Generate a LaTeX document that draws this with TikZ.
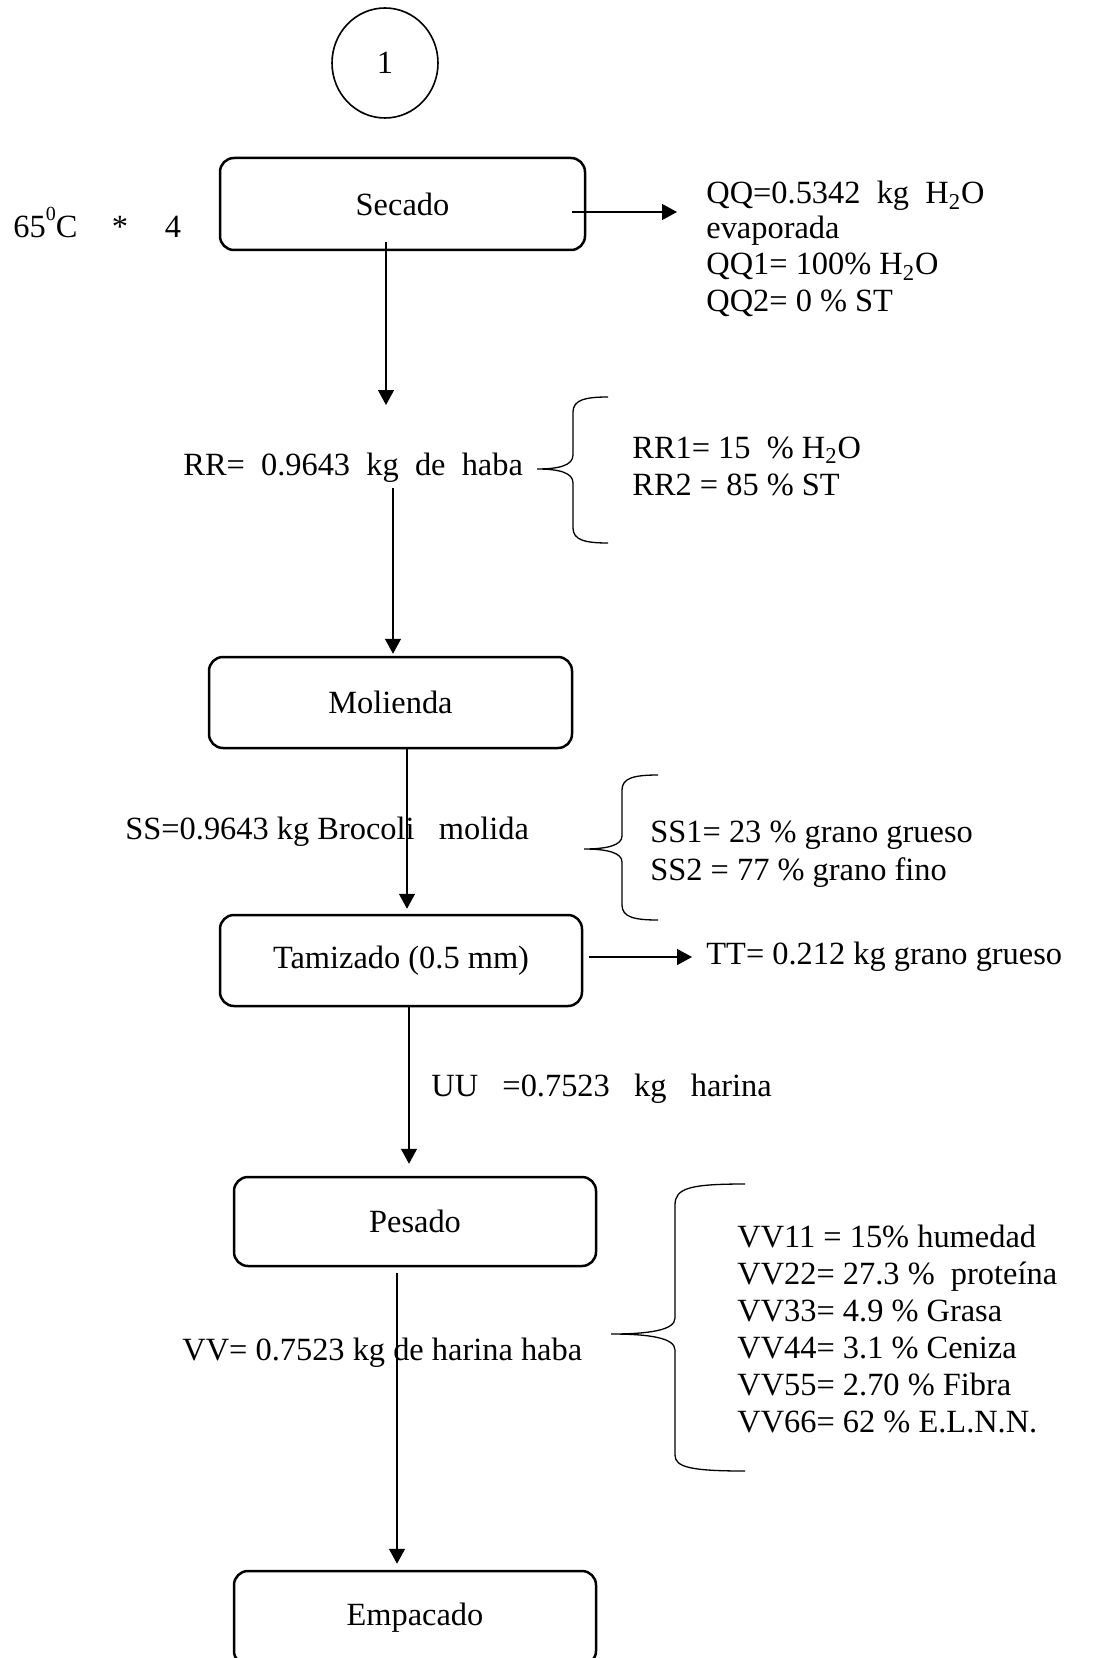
\documentclass[tikz,border=0pt]{standalone}
\usepackage{fontspec}
\setmainfont{Liberation Serif}
\usetikzlibrary{shapes.geometric,arrows.meta}
\begin{document}
\begin{tikzpicture}[x=0.5pt,y=-0.5pt,
  txt/.style={font=\fontsize{16.2}{18.5}\selectfont, inner sep=0pt, anchor=base west},
  box/.style={draw, line width=1.25pt, rounded corners=7pt, inner sep=0pt,
              font=\fontsize{16.2}{18.5}\selectfont},
  arr/.style={line width=0.65pt, -{Triangle[length=7.5pt,width=8pt]}},
  brc/.style={line width=0.65pt}]
\useasboundingbox (0,0) rectangle (1092,1658);

% start circle
\node[ellipse, draw, line width=0.8pt, minimum width=53pt, minimum height=55pt,
      font=\fontsize{16.2}{18.5}\selectfont] (c1) at (385,63) {1};

% process boxes
\node[box, minimum width=182.5pt, minimum height=46pt] (secado) at (402.5,204) {Secado};
\node[box, minimum width=181.5pt, minimum height=45.5pt] (molienda) at (390.5,702.5) {Molienda};
\node[box, minimum width=181pt, minimum height=45.5pt] (tamizado) at (401,960.5) {Tamizado (0.5 mm)};
\node[box, minimum width=181pt, minimum height=44.5pt] (pesado) at (415,1221.5) {Pesado};
\node[box, minimum width=181pt, minimum height=47pt] (empacado) at (415,1618) {Empacado};

% side texts
\node[txt] (temp) at (13,238) {65\raisebox{0.55em}{\fontsize{10}{10}\selectfont 0}C};
\node[txt, anchor=base] (star) at (120,238) {*};
\node[txt, anchor=base] (four) at (173,238) {4};

\node[txt] (qq)  at (706,204) {QQ=0.5342~~kg~~H\textsubscript{2}O};
\node[txt] (qqe) at (706,239) {evaporada};
\node[txt] (qq1) at (706,275) {QQ1= 100\% H\textsubscript{2}O};
\node[txt] (qq2) at (706,312) {QQ2= 0 \% ST};

\node[txt] (rr)  at (183,475) {RR=~~0.9643~~kg~~de~~haba};
\node[txt] (rr1) at (632,458) {RR1= 15~~\% H\textsubscript{2}O};
\node[txt] (rr2) at (632,495) {RR2 = 85 \% ST};

\node[txt] (ss)  at (125,839) {SS=0.9643 kg Brocoli~~~molida};
\node[txt] (ss1) at (650,842) {SS1= 23 \% grano grueso};
\node[txt] (ss2) at (650,880) {SS2 = 77 \% grano fino};

\node[txt] (tt)  at (706,964) {TT= 0.212 kg grano grueso};
\node[txt] (uu)  at (431,1096) {UU~~~=0.7523~~~kg~~~harina};

\node[txt] (vv)  at (182,1360) {VV= 0.7523 kg de harina haba};
\node[txt] (vv1) at (737,1247) {VV11 = 15\% humedad};
\node[txt] (vv2) at (737,1284) {VV22= 27.3 \%~~proteína};
\node[txt] (vv3) at (737,1321) {VV33= 4.9 \% Grasa};
\node[txt] (vv4) at (737,1358) {VV44= 3.1 \% Ceniza};
\node[txt] (vv5) at (737,1395) {VV55= 2.70 \% Fibra};
\node[txt] (vv6) at (737,1432) {VV66= 62 \% E.L.N.N.};

% connectors
\coordinate (a1s) at (386,242);
\coordinate (a1e) at (386,405);
\draw[arr] (a1s) -- (a1e);

\coordinate (a2s) at (393,488);
\draw[arr, shorten >=1pt] (a2s) -- (a2s |- molienda.north);

\draw[arr, shorten >=2.5pt] (molienda.south -| 407,0) -- (tamizado.north -| 407,0);
\draw[arr, shorten >=6pt] (tamizado.south -| 409,0) -- (pesado.north -| 409,0);
\draw[arr, shorten <=3pt, shorten >=3pt] (pesado.south -| 397,0) -- (empacado.north -| 397,0);

\coordinate (q0) at (572,212);
\coordinate (q1) at (677,212);
\draw[arr] (q0) -- (q1);

\coordinate (t0) at (589,957);
\coordinate (t1) at (692,957);
\draw[arr] (t0) -- (t1);

% braces
\draw[brc] (608,397) .. controls (585,397) and (573,400) .. (573,412) -- (573,455)
  .. controls (573,465) and (560,469) .. (537,469)
  .. controls (560,469) and (573,473) .. (573,483) -- (573,528)
  .. controls (573,540) and (585,543) .. (608,543);

\draw[brc] (658,775) .. controls (634,775) and (622,778) .. (622,790) -- (622,836)
  .. controls (622,845) and (608,849) .. (584,849)
  .. controls (608,849) and (622,853) .. (622,862) -- (622,905)
  .. controls (622,917) and (634,920) .. (658,920);

\draw[brc] (745,1184) .. controls (690,1184) and (675,1188) .. (675,1205) -- (675,1318)
  .. controls (675,1330) and (650,1334) .. (611,1334)
  .. controls (650,1334) and (675,1338) .. (675,1350) -- (675,1455)
  .. controls (675,1467) and (690,1471) .. (745,1471);
\end{tikzpicture}
\end{document}
